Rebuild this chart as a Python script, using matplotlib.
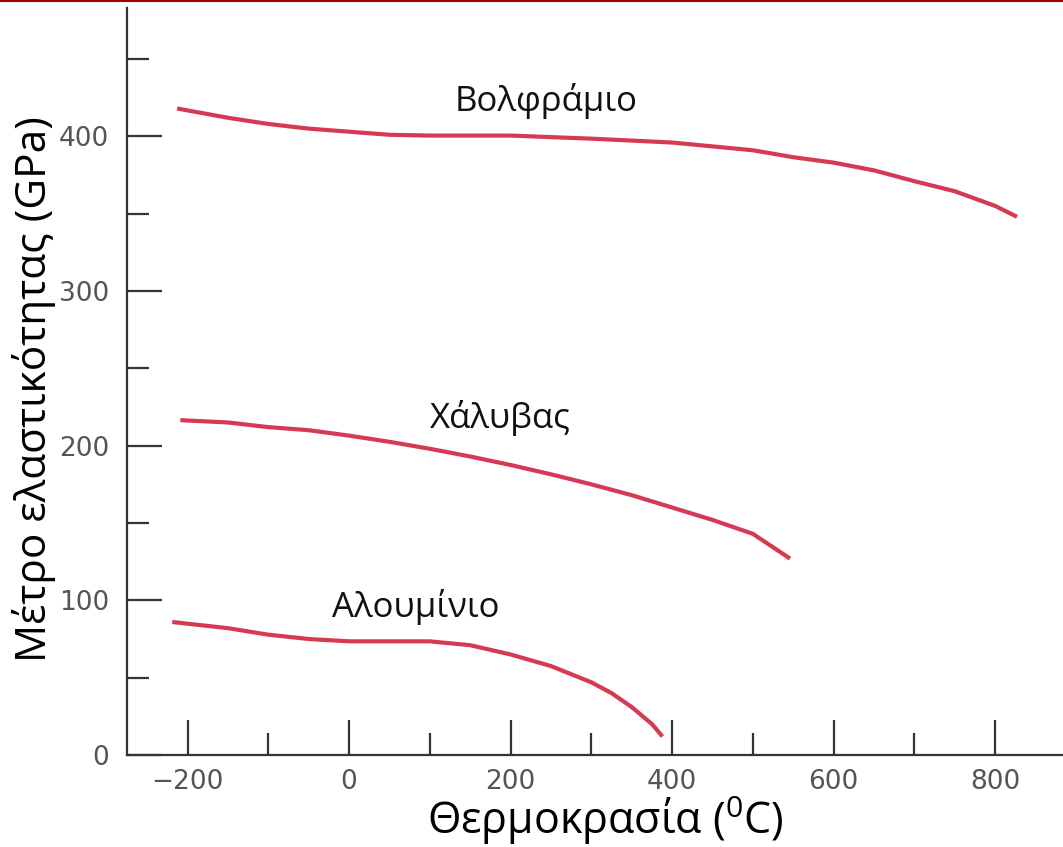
import matplotlib
matplotlib.use("Agg")
import matplotlib.pyplot as plt
from matplotlib.lines import Line2D
from matplotlib.ticker import MultipleLocator

# temperature (C) and elastic modulus (GPa)
t_w = [-213, -150, -100, -50, 0, 50, 100, 200, 300, 400, 450, 500, 550, 600, 650, 700, 750, 800, 827]
e_w = [418, 412, 408, 405, 403, 401, 400.5, 400.5, 398.5, 396, 393.5, 391, 386.5, 383, 378, 371,
       364.5, 355, 348]

t_st = [-209, -150, -100, -50, 0, 50, 100, 150, 200, 250, 300, 350, 400, 450, 500, 546]
e_st = [216.5, 215, 212, 210, 206.5, 202.5, 198, 193, 187.5, 181.5, 175, 168, 160, 152, 143, 127]

t_al = [-219, -150, -100, -50, 0, 50, 100, 150, 200, 250, 300, 325, 350, 375, 388]
e_al = [86, 82, 77.8, 75, 73.5, 73.5, 73.5, 71, 65, 57.5, 47, 40, 31, 20, 12]

names = ["Βολφράμιο", "Χάλυβας", "Αλουμίνιο"]
name_pos = [(244, 423), (187, 218), (83, 96)]

x_ticks = [-200, 0, 200, 400, 600, 800]
y_ticks = [0, 100, 200, 300, 400]

plt.rcParams['mathtext.fontset'] = 'custom'
plt.rcParams['mathtext.rm'] = 'Open Sans'

red = '#d63a52'
axc = '#333333'
lab_font = ['Open Sans', 'DejaVu Sans']

fig = plt.figure(figsize=(10.63, 8.47), dpi=100)
ax = fig.add_axes([0.1195, 0.1086, 0.8805, 0.882])

for t, e in [(t_w, e_w), (t_st, e_st), (t_al, e_al)]:
    ax.plot(t, e, color=red, lw=3, solid_capstyle='butt', solid_joinstyle='round')

for n, (x, y) in zip(names, name_pos):
    ax.text(x, y, n, ha='center', va='center', fontsize=25,
            family=lab_font, color='#111111')

ax.set_xlim(-275, 884)
ax.set_ylim(0, 483)
ax.set_xticks(x_ticks)
ax.set_yticks(y_ticks)
ax.set_xticklabels(['\u2212200', '0', '200', '400', '600', '800'])
ax.xaxis.set_minor_locator(MultipleLocator(100))
ax.yaxis.set_minor_locator(MultipleLocator(50))

for s in ['top', 'right']:
    ax.spines[s].set_visible(False)
for s in ['left', 'bottom']:
    ax.spines[s].set_color(axc)
    ax.spines[s].set_linewidth(1.6)

ax.tick_params(which='major', direction='in', length=25, width=1.6,
               color=axc, labelcolor='#555555', labelsize=19)
ax.tick_params(which='minor', direction='in', length=16, width=1.6, color=axc)
ax.tick_params(axis='y', pad=13)
ax.tick_params(axis='x', pad=10)

ax.set_xlabel('Θερμοκρασία ($^{0}$C)', fontsize=31, family=lab_font)
ax.set_ylabel('Μέτρο ελαστικότητας (GPa)', fontsize=30.5, family=lab_font)
ax.xaxis.set_label_coords(0.511, -0.052)
ax.yaxis.set_label_coords(-0.076, 0.49)

fig.add_artist(Line2D([0, 1], [0.999, 0.999], transform=fig.transFigure,
                      color='#a00000', lw=1.5))

fig.savefig('out.png', dpi=100)
